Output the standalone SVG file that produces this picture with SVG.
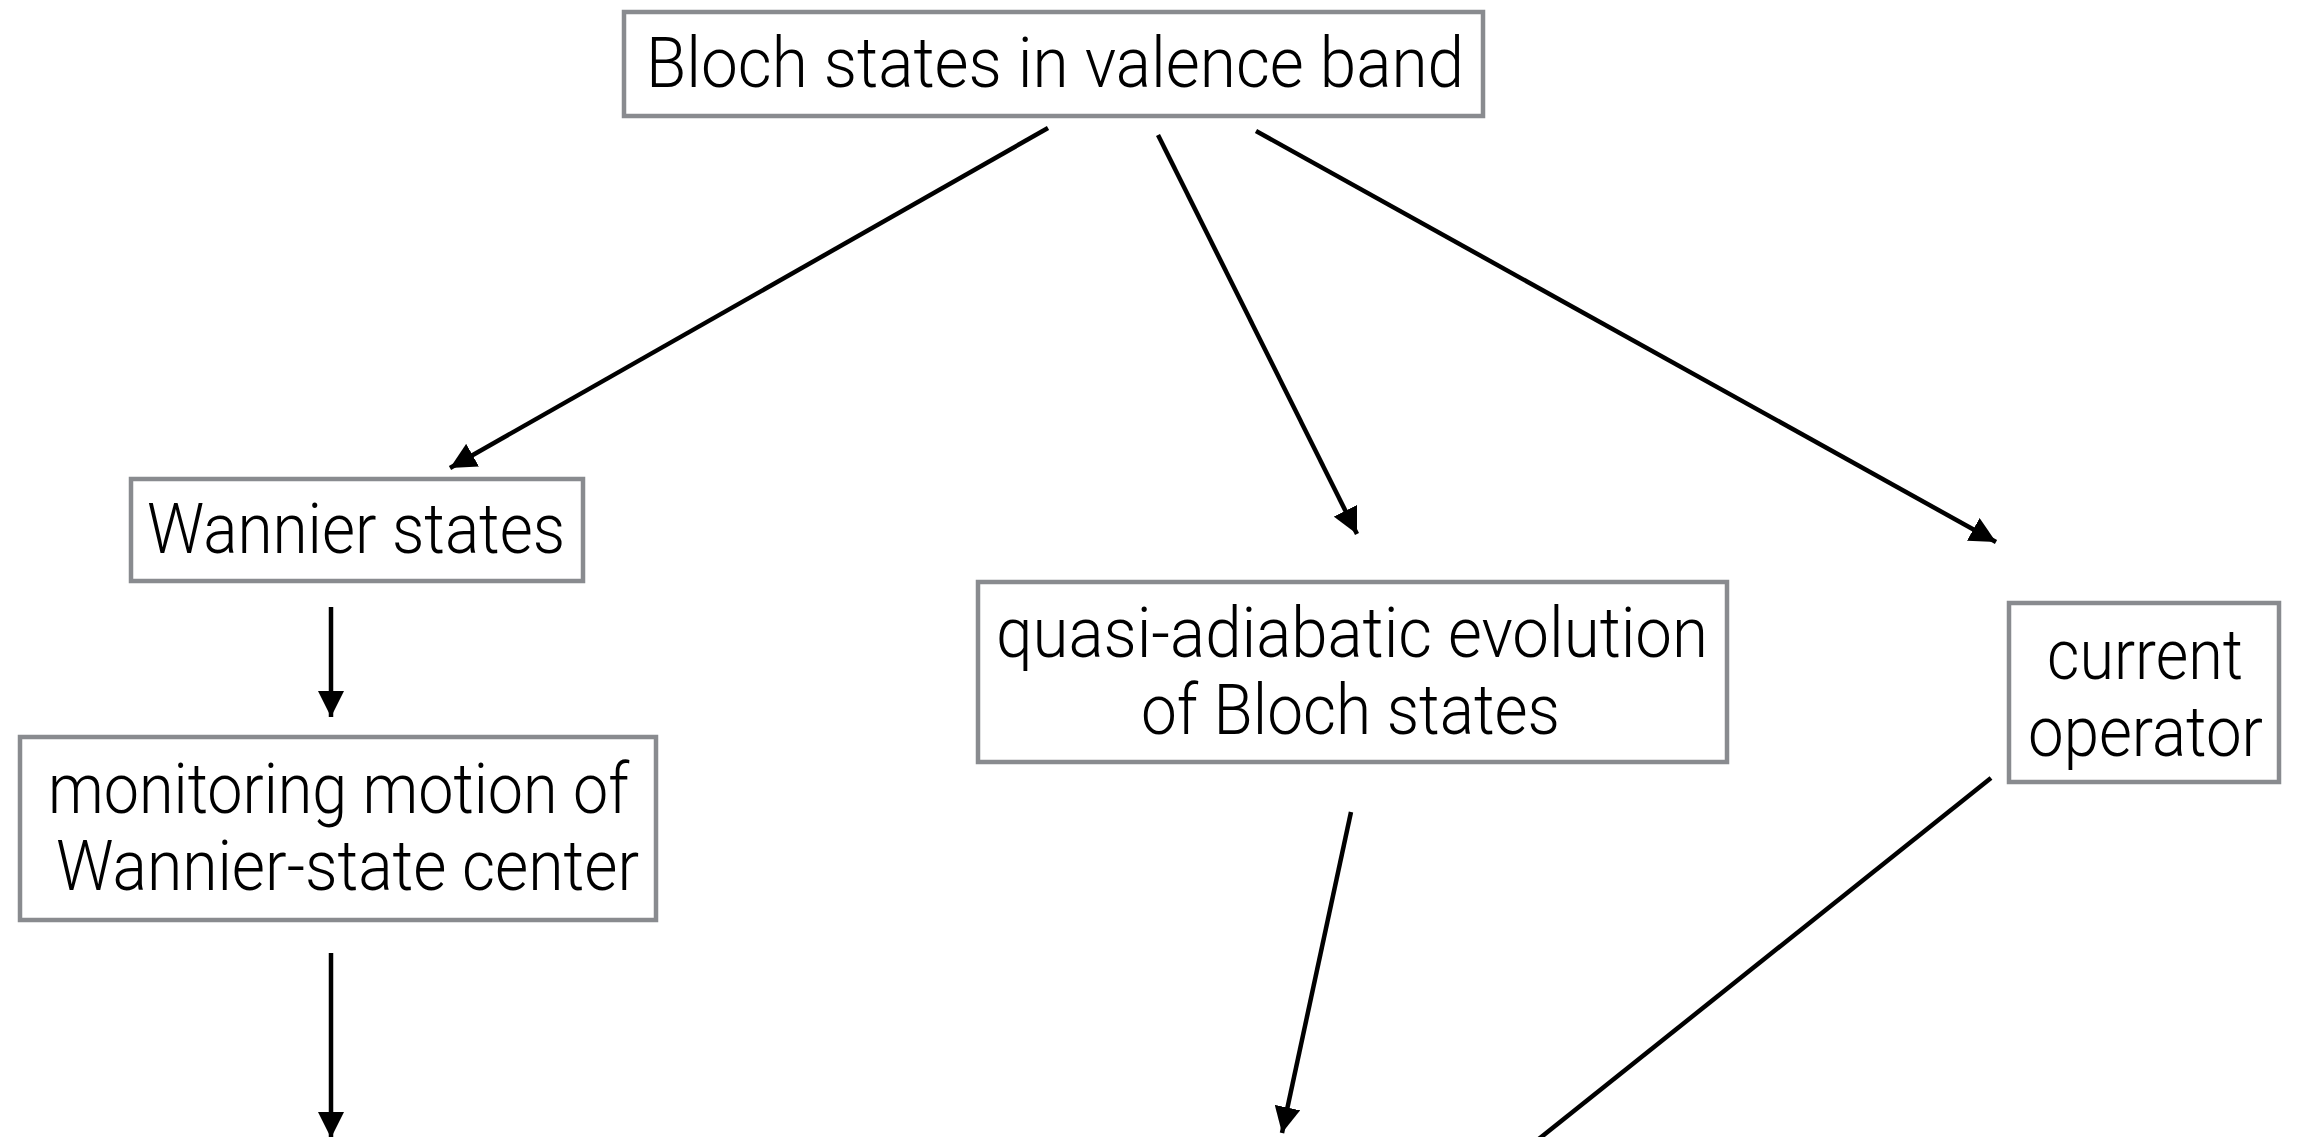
<svg xmlns="http://www.w3.org/2000/svg" width="2307" height="1137" viewBox="0 0 2307 1137">
  <style>
    .box { fill: #ffffff; stroke: #898b8f; stroke-width: 4.5; }
    .lbl { font-family: Roboto, "Liberation Sans", Arial, sans-serif; font-weight: 300; font-size: 70px; fill: #000000; }
    .edge { stroke: #000000; stroke-width: 4.5; fill: none; }
  </style>
  <defs>
    <marker id="arrow" markerUnits="userSpaceOnUse" markerWidth="28" markerHeight="26" refX="26" refY="13" orient="auto">
      <path d="M0,0 L26,13 L0,26 Z" fill="#000000"/>
    </marker>
  </defs>
  <rect width="2307" height="1137" fill="#ffffff"/>

  <g id="bloch">
    <rect class="box" x="624" y="12" width="859" height="104"/>
    <text class="lbl" x="646" y="87" textLength="818" lengthAdjust="spacingAndGlyphs">Bloch states in valence band</text>
  </g>

  <g id="wannier">
    <rect class="box" x="131" y="479" width="452" height="102"/>
    <text class="lbl" x="147" y="553" textLength="418" lengthAdjust="spacingAndGlyphs">Wannier states</text>
  </g>

  <g id="monitoring">
    <rect class="box" x="20" y="737" width="636" height="183"/>
    <text class="lbl" x="48" y="813" textLength="581" lengthAdjust="spacingAndGlyphs">monitoring motion of</text>
    <text class="lbl" x="56" y="890" textLength="583" lengthAdjust="spacingAndGlyphs">Wannier-state center</text>
  </g>

  <g id="quasi">
    <rect class="box" x="978" y="582" width="749" height="180"/>
    <text class="lbl" x="996" y="657" textLength="712" lengthAdjust="spacingAndGlyphs">quasi-adiabatic evolution</text>
    <text class="lbl" x="1141" y="734" textLength="419" lengthAdjust="spacingAndGlyphs">of Bloch states</text>
  </g>

  <g id="current">
    <rect class="box" x="2009" y="603" width="270" height="179"/>
    <text class="lbl" x="2047" y="679" textLength="196" lengthAdjust="spacingAndGlyphs">current</text>
    <text class="lbl" x="2028" y="756" textLength="235" lengthAdjust="spacingAndGlyphs">operator</text>
  </g>

  <g id="connectors">
    <line class="edge" x1="1048" y1="128" x2="450" y2="468" marker-end="url(#arrow)"/>
    <line class="edge" x1="1158" y1="135" x2="1357" y2="534" marker-end="url(#arrow)"/>
    <line class="edge" x1="1256" y1="131" x2="1996" y2="542" marker-end="url(#arrow)"/>
    <line class="edge" x1="331" y1="607" x2="331" y2="717" marker-end="url(#arrow)"/>
    <line class="edge" x1="331" y1="953" x2="331" y2="1138" marker-end="url(#arrow)"/>
    <line class="edge" x1="1351" y1="812" x2="1282" y2="1133" marker-end="url(#arrow)"/>
    <line class="edge" x1="1991" y1="778" x2="1530" y2="1146"/>
  </g>
</svg>
